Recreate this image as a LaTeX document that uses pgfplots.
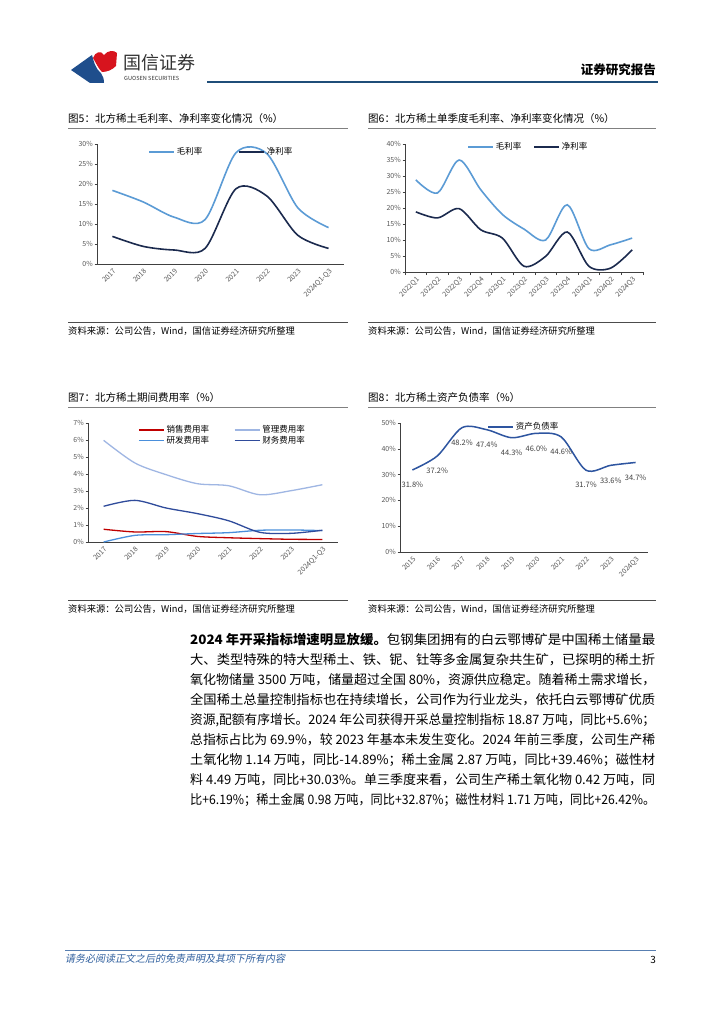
\documentclass[border=0pt]{standalone}
\usepackage{fontspec}
\setmainfont{Noto Sans CJK SC}
\newfontfamily\slfont{Noto Sans CJK SC}[FakeSlant=0.2]
\usepackage{graphicx}
\usepackage{pgfplots}
\pgfplotsset{compat=1.18}

\definecolor{gmblue}{HTML}{5B9BD5}
\definecolor{jnavy}{HTML}{1B2A4E}
\definecolor{xsred}{HTML}{C00000}
\definecolor{glblue}{HTML}{9FB6E3}
\definecolor{yfblue}{HTML}{4A8FDB}
\definecolor{cwblue}{HTML}{2F4B9B}
\definecolor{zcblue}{HTML}{2E55A0}
\definecolor{tickgray}{HTML}{595959}
\definecolor{axgray}{HTML}{404040}
\definecolor{hdrblue}{HTML}{1F4E79}
\definecolor{logoblue}{HTML}{1F4E8C}
\definecolor{logored}{HTML}{D7141E}
\definecolor{footblue}{HTML}{2F5F9E}

\pgfplotsset{
  chart/.style={
    scale only axis,
    anchor=south west,
    axis x line*=bottom, axis y line*=left,
    axis line style={draw=axgray, line width=0.6pt},
    tick style={draw=axgray, line width=0.5pt},
    tick align=outside,
    major tick length=2.5pt,
    minor tick length=3pt,
    xtick=data,
    major x tick style={draw=none},
    every tick label/.append style={font=\fontsize{7}{7.5}\selectfont, text=tickgray},
    xticklabel style={rotate=45, anchor=north east, inner sep=1pt},
    yticklabel style={inner sep=1.5pt},
    /pgf/number format/assume math mode=true,
    yticklabel={\pgfmathprintnumber{\tick}\%},
    legend cell align=left,
    legend style={draw=none, fill=none, inner sep=0pt, font=\fontsize{8.5}{9}\selectfont, nodes={inner xsep=2pt, inner ysep=0.5pt}},
    legend image code/.code={\draw[##1] (0pt,0pt) -- (25pt,0pt);},
    clip=false,
  },
}

\begin{document}
\begin{tikzpicture}[x=1pt,y=-1pt]
\path[use as bounding box, fill=white] (0,0) rectangle (724,1024);

% ---------- header ----------
\fill[logoblue] (71,70) -- (92,55) .. controls (94,62) and (95,68) .. (101,73) .. controls (103,76) and (104,79) .. (104,83) -- (90,83) -- cycle;
\fill[logored] (93,58) .. controls (95,52) and (101,50) .. (104,55) .. controls (108,50) and (114,50) .. (117,53) -- (116,66) .. controls (112,70) and (107,72) .. (102,72) .. controls (98,68) and (96,63) .. (93,58) -- cycle;
\node[anchor=west, inner sep=0pt, text=black!80] at (123,63) {\fontsize{18}{18}\selectfont 国信证券};
\node[anchor=west, inner sep=0pt, text=black!80] at (124,78) {\fontsize{5.6}{6}\selectfont GUOSEN SECURITIES};
\node[anchor=east, inner sep=0pt] at (656,70) {\fontsize{12.5}{13}\selectfont\bfseries 证券研究报告};
\draw[hdrblue, line width=2pt] (207,82) -- (658,82);

% ---------- titles ----------
\node[anchor=west, inner sep=0pt] at (68,119) {\fontsize{10.5}{11}\selectfont 图5：北方稀土毛利率、净利率变化情况（\%）};
\node[anchor=west, inner sep=0pt] at (368,119) {\fontsize{10.5}{11}\selectfont 图6：北方稀土单季度毛利率、净利率变化情况（\%）};
\draw[black!50, line width=0.9pt] (68,128) -- (348,128);
\draw[black!50, line width=0.9pt] (368,128) -- (656,128);

\node[anchor=west, inner sep=0pt] at (68,398) {\fontsize{10.5}{11}\selectfont 图7：北方稀土期间费用率（\%）};
\node[anchor=west, inner sep=0pt] at (368,398) {\fontsize{10.5}{11}\selectfont 图8：北方稀土资产负债率（\%）};
\draw[black!50, line width=0.9pt] (68,407) -- (348,407);
\draw[black!50, line width=0.9pt] (368,407) -- (656,407);

% ---------- sources ----------
\draw[black!70, line width=0.7pt] (68,322) -- (348,322);
\draw[black!70, line width=0.7pt] (368,322) -- (656,322);
\node[anchor=west, inner sep=0pt] at (68,331) {\fontsize{9.3}{10}\selectfont 资料来源：公司公告，Wind，国信证券经济研究所整理};
\node[anchor=west, inner sep=0pt] at (368,331) {\fontsize{9.3}{10}\selectfont 资料来源：公司公告，Wind，国信证券经济研究所整理};
\draw[black!70, line width=0.7pt] (68,600) -- (348,600);
\draw[black!70, line width=0.7pt] (368,600) -- (656,600);
\node[anchor=west, inner sep=0pt] at (68,609) {\fontsize{9.3}{10}\selectfont 资料来源：公司公告，Wind，国信证券经济研究所整理};
\node[anchor=west, inner sep=0pt] at (368,609) {\fontsize{9.3}{10}\selectfont 资料来源：公司公告，Wind，国信证券经济研究所整理};

% ---------- chart 5 ----------
\begin{axis}[chart, at={(97pt,-264pt)}, width=247pt, height=120pt,
  xmin=-0.5, xmax=7.5, ymin=0, ymax=30, ytick={0,5,...,30},
  xticklabels={2017,2018,2019,2020,2021,2022,2023,2024Q1-Q3},
  legend columns=2,
  legend style={at={(0.2065,0.933)}, anchor=west, /tikz/every even column/.append style={column sep=34pt}}]
\addplot[gmblue, line width=1.6pt, smooth] coordinates {(0,18.4) (1,15.5) (2,11.7) (3,11.1) (4,27.8) (5,27.6) (6,14.1) (7,9.1)};
\addlegendentry{毛利率}
\addplot[jnavy, line width=1.6pt, smooth] coordinates {(0,6.9) (1,4.4) (2,3.5) (3,3.9) (4,18.8) (5,17.0) (6,7.2) (7,3.9)};
\addlegendentry{净利率}
\end{axis}

% ---------- chart 6 ----------
\begin{axis}[chart, at={(405pt,-272pt)}, width=238pt, height=128pt,
  xmin=-0.5, xmax=10.5, ymin=0, ymax=40, ytick={0,5,...,40},
  minor xtick={-0.5,0.5,...,10.5},
  xticklabels={2022Q1,2022Q2,2022Q3,2022Q4,2023Q1,2023Q2,2023Q3,2023Q4,2024Q1,2024Q2,2024Q3},
  legend columns=2,
  legend style={at={(0.2605,0.977)}, anchor=west, /tikz/every even column/.append style={column sep=10pt}}]
\addplot[gmblue, line width=1.6pt, smooth] coordinates {(0,28.8) (1,24.7) (2,35.0) (3,25.7) (4,18.0) (5,13.4) (6,10.0) (7,21.0) (8,7.3) (9,8.5) (10,10.6)};
\addlegendentry{毛利率}
\addplot[jnavy, line width=1.6pt, smooth] coordinates {(0,18.8) (1,16.9) (2,19.8) (3,13.2) (4,10.6) (5,1.8) (6,4.9) (7,12.5) (8,1.8) (9,1.2) (10,6.9)};
\addlegendentry{净利率}
\end{axis}

% ---------- chart 7 ----------
\begin{axis}[chart, at={(88pt,-542pt)}, width=250pt, height=119pt,
  xmin=-0.5, xmax=7.5, ymin=0, ymax=7, ytick={0,1,...,7},
  xticklabels={2017,2018,2019,2020,2021,2022,2023,2024Q1-Q3},
  legend columns=2,
  legend style={at={(0.2,0.895)}, anchor=west, /tikz/every even column/.append style={column sep=23pt}, /tikz/row sep=1pt}]
\addplot[xsred, line width=1.3pt, smooth] coordinates {(0,0.75) (1,0.59) (2,0.61) (3,0.33) (4,0.25) (5,0.20) (6,0.16) (7,0.15)};
\addlegendentry{销售费用率}
\addplot[glblue, line width=1.3pt, smooth] coordinates {(0,5.98) (1,4.65) (2,3.96) (3,3.43) (4,3.31) (5,2.78) (6,3.02) (7,3.37)};
\addlegendentry{管理费用率}
\addplot[yfblue, line width=1.3pt, smooth] coordinates {(0,0.0) (1,0.39) (2,0.43) (3,0.50) (4,0.55) (5,0.69) (6,0.71) (7,0.67)};
\addlegendentry{研发费用率}
\addplot[cwblue, line width=1.3pt, smooth] coordinates {(0,2.10) (1,2.45) (2,2.00) (3,1.67) (4,1.25) (5,0.57) (6,0.51) (7,0.69)};
\addlegendentry{财务费用率}
\end{axis}

% ---------- chart 8 ----------
\begin{axis}[chart, at={(400pt,-552pt)}, width=248pt, height=129pt,
  xmin=-0.5, xmax=9.5, ymin=0, ymax=50, ytick={0,10,...,50},
  xticklabels={2015,2016,2017,2018,2019,2020,2021,2022,2023,2024Q3},
  legend style={at={(0.351,0.969)}, anchor=west}]
\addplot[zcblue, line width=1.5pt, smooth,
  nodes near coords={\pgfmathprintnumber[fixed,fixed zerofill,precision=1]{\pgfplotspointmeta}\%},
  every node near coord/.append style={font=\fontsize{7.5}{8}\selectfont, text=axgray, anchor=center, yshift=-15pt}]
  coordinates {(0,31.8) (1,37.2) (2,48.2) (3,47.4) (4,44.3) (5,46.0) (6,44.6) (7,31.7) (8,33.6) (9,34.7)};
\addlegendentry{资产负债率}
\end{axis}

% ---------- body text ----------
\begin{scope}[every node/.style={anchor=west, inner sep=0pt}]
\node at (190,640) {\resizebox{465pt}{\height}{\fontsize{13}{14}\selectfont\textbf{2024 年开采指标增速明显放缓。}包钢集团拥有的白云鄂博矿是中国稀土储量最}};
\node at (190,660) {\resizebox{465pt}{\height}{\fontsize{13}{14}\selectfont 大、类型特殊的特大型稀土、铁、铌、钍等多金属复杂共生矿，已探明的稀土折}};
\node at (190,680) {\resizebox{465pt}{\height}{\fontsize{13}{14}\selectfont 氧化物储量 3500 万吨，储量超过全国 80\%，资源供应稳定。随着稀土需求增长，}};
\node at (190,700) {\resizebox{465pt}{\height}{\fontsize{13}{14}\selectfont 全国稀土总量控制指标也在持续增长，公司作为行业龙头，依托白云鄂博矿优质}};
\node at (190,720) {\resizebox{465pt}{\height}{\fontsize{13}{14}\selectfont 资源,配额有序增长。2024 年公司获得开采总量控制指标 18.87 万吨，同比+5.6\%；}};
\node at (190,740) {\resizebox{465pt}{\height}{\fontsize{13}{14}\selectfont 总指标占比为 69.9\%，较 2023 年基本未发生变化。2024 年前三季度，公司生产稀}};
\node at (190,760) {\resizebox{465pt}{\height}{\fontsize{13}{14}\selectfont 土氧化物 1.14 万吨，同比-14.89\%；稀土金属 2.87 万吨，同比+39.46\%；磁性材}};
\node at (190,780) {\resizebox{465pt}{\height}{\fontsize{13}{14}\selectfont 料 4.49 万吨，同比+30.03\%。单三季度来看，公司生产稀土氧化物 0.42 万吨，同}};
\node at (190,800) {\resizebox{465pt}{\height}{\fontsize{13}{14}\selectfont 比+6.19\%；稀土金属 0.98 万吨，同比+32.87\%；磁性材料 1.71 万吨，同比+26.42\%。}};
\end{scope}

% ---------- footer ----------
\draw[footblue!80, line width=0.8pt] (65,950) -- (656,950);
\node[anchor=west, inner sep=0pt, text=footblue] at (65,959) {\fontsize{10}{11}\slfont 请务必阅读正文之后的免责声明及其项下所有内容};
\node[anchor=east, inner sep=0pt] at (656,960) {\fontsize{10}{11}\selectfont 3};
\end{tikzpicture}
\end{document}
